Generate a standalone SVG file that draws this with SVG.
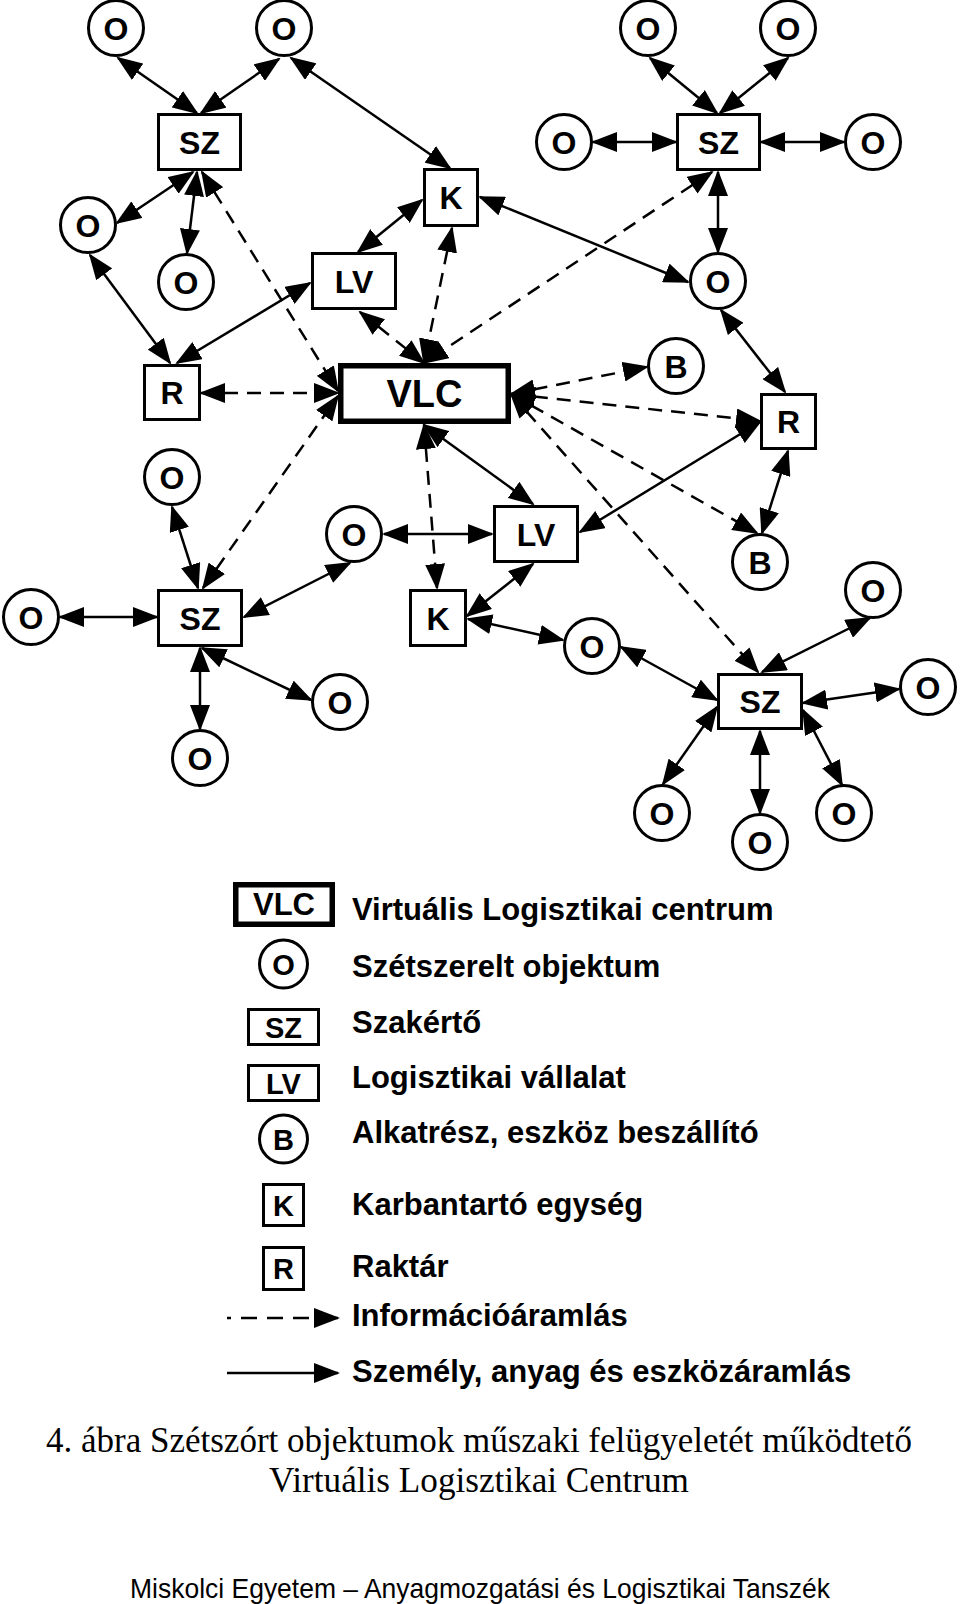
<svg xmlns="http://www.w3.org/2000/svg" width="960" height="1604" viewBox="0 0 960 1604">
<defs>
<marker id="ah" viewBox="0 0 26 20" refX="24" refY="10" markerWidth="26" markerHeight="20" markerUnits="userSpaceOnUse" orient="auto-start-reverse"><path d="M0,0 L26,10 L0,20 Z" fill="#000"/></marker>
<style>
.c{fill:#fff;stroke:#000;stroke-width:3}
.b{fill:#fff;stroke:#000;stroke-width:3}
.v{fill:#fff;stroke:#000;stroke-width:5.5}
.t{font-family:"Liberation Sans",Arial,sans-serif;font-weight:bold;font-size:32px;text-anchor:middle;fill:#000}
.tv{font-family:"Liberation Sans",Arial,sans-serif;font-weight:bold;font-size:38px;text-anchor:middle;fill:#000}
.tl{font-family:"Liberation Sans",Arial,sans-serif;font-weight:bold;font-size:29px;text-anchor:middle;fill:#000}
.lg{font-family:"Liberation Sans",Arial,sans-serif;font-weight:bold;font-size:31px;fill:#000}
.cap{font-family:"Liberation Serif","Times New Roman",serif;font-size:35px;text-anchor:middle;fill:#000}
.ft{font-family:"Liberation Sans",Arial,sans-serif;font-size:28px;fill:#000}
.s{stroke:#000;stroke-width:2.5;fill:none;marker-start:url(#ah);marker-end:url(#ah)}
.d{stroke:#000;stroke-width:2.5;fill:none;stroke-dasharray:14 9;marker-start:url(#ah);marker-end:url(#ah)}
</style>
</defs>
<rect x="0" y="0" width="960" height="1604" fill="#fff"/>

<g id="nodes">
<g id="o1"><circle class="c" cx="116" cy="28" r="27.5"/><text class="t" x="116" y="39.5">O</text></g>
<g id="o2"><circle class="c" cx="284" cy="28" r="27.5"/><text class="t" x="284" y="39.5">O</text></g>
<g id="o3"><circle class="c" cx="88" cy="225" r="27.5"/><text class="t" x="88" y="236.5">O</text></g>
<g id="o4"><circle class="c" cx="186" cy="282" r="27.5"/><text class="t" x="186" y="293.5">O</text></g>
<g id="o5"><circle class="c" cx="648" cy="28" r="27.5"/><text class="t" x="648" y="39.5">O</text></g>
<g id="o6"><circle class="c" cx="788" cy="28" r="27.5"/><text class="t" x="788" y="39.5">O</text></g>
<g id="o7"><circle class="c" cx="564" cy="142" r="27.5"/><text class="t" x="564" y="153.5">O</text></g>
<g id="o8"><circle class="c" cx="873" cy="142" r="27.5"/><text class="t" x="873" y="153.5">O</text></g>
<g id="o9"><circle class="c" cx="718" cy="281" r="27.5"/><text class="t" x="718" y="292.5">O</text></g>
<g id="b1"><circle class="c" cx="676" cy="366" r="27.5"/><text class="t" x="676" y="377.5">B</text></g>
<g id="o10"><circle class="c" cx="172" cy="477" r="27.5"/><text class="t" x="172" y="488.5">O</text></g>
<g id="o11"><circle class="c" cx="354" cy="534" r="27.5"/><text class="t" x="354" y="545.5">O</text></g>
<g id="b2"><circle class="c" cx="760" cy="562" r="27.5"/><text class="t" x="760" y="573.5">B</text></g>
<g id="o12"><circle class="c" cx="31" cy="617" r="27.5"/><text class="t" x="31" y="628.5">O</text></g>
<g id="o13"><circle class="c" cx="873" cy="590" r="27.5"/><text class="t" x="873" y="601.5">O</text></g>
<g id="o14"><circle class="c" cx="592" cy="646" r="27.5"/><text class="t" x="592" y="657.5">O</text></g>
<g id="o15"><circle class="c" cx="340" cy="702" r="27.5"/><text class="t" x="340" y="713.5">O</text></g>
<g id="o16"><circle class="c" cx="928" cy="687" r="27.5"/><text class="t" x="928" y="698.5">O</text></g>
<g id="o17"><circle class="c" cx="200" cy="758" r="27.5"/><text class="t" x="200" y="769.5">O</text></g>
<g id="o18"><circle class="c" cx="662" cy="813" r="27.5"/><text class="t" x="662" y="824.5">O</text></g>
<g id="o19"><circle class="c" cx="760" cy="842" r="27.5"/><text class="t" x="760" y="853.5">O</text></g>
<g id="o20"><circle class="c" cx="844" cy="813" r="27.5"/><text class="t" x="844" y="824.5">O</text></g>

<g id="sz1"><rect class="b" x="158.5" y="114.5" width="82" height="55"/><text class="t" x="199.5" y="153.5">SZ</text></g>
<g id="sz2"><rect class="b" x="677.5" y="114.5" width="82" height="55"/><text class="t" x="718.5" y="153.5">SZ</text></g>
<g id="sz3"><rect class="b" x="158.5" y="590.5" width="83" height="55"/><text class="t" x="200" y="629.5">SZ</text></g>
<g id="sz4"><rect class="b" x="718.5" y="674.5" width="83" height="54"/><text class="t" x="760" y="713">SZ</text></g>
<g id="lv1"><rect class="b" x="312.5" y="253.5" width="83" height="55"/><text class="t" x="354" y="292.5">LV</text></g>
<g id="lv2"><rect class="b" x="494.5" y="506.5" width="83" height="55"/><text class="t" x="536" y="545.5">LV</text></g>
<g id="k1"><rect class="b" x="424.5" y="169.5" width="53" height="56"/><text class="t" x="451" y="209">K</text></g>
<g id="k2"><rect class="b" x="410.5" y="590.5" width="55" height="55"/><text class="t" x="438" y="629.5">K</text></g>
<g id="r1"><rect class="b" x="144.5" y="365.5" width="55" height="54"/><text class="t" x="172" y="404">R</text></g>
<g id="r2"><rect class="b" x="761.5" y="394.5" width="54" height="54"/><text class="t" x="788.5" y="433">R</text></g>
<g id="vlc"><rect class="v" x="340.75" y="365.75" width="167.5" height="55.5"/><text class="tv" x="424.5" y="407">VLC</text></g>
</g>

<g id="connectors">
<line class="s" x1="118" y1="58" x2="197" y2="113"/>
<line class="s" x1="279" y1="59" x2="201" y2="113"/>
<line class="s" x1="291" y1="58" x2="450" y2="168"/>
<line class="s" x1="193" y1="172" x2="117" y2="223"/>
<line class="s" x1="197" y1="172" x2="187" y2="253"/>
<line class="s" x1="90" y1="255" x2="170" y2="363"/>
<line class="s" x1="310" y1="283" x2="177" y2="363"/>
<line class="s" x1="422" y1="200" x2="358" y2="252"/>
<line class="s" x1="424" y1="425" x2="533" y2="504"/>
<line class="s" x1="384" y1="534" x2="492" y2="534"/>
<line class="s" x1="533" y1="564" x2="467" y2="616"/>
<line class="s" x1="468" y1="619" x2="563" y2="640"/>
<line class="s" x1="580" y1="532" x2="760" y2="422"/>
<line class="s" x1="721" y1="310" x2="785" y2="392"/>
<line class="s" x1="788" y1="451" x2="762" y2="533"/>
<line class="s" x1="480" y1="197" x2="688" y2="282"/>
<line class="s" x1="593" y1="142" x2="676" y2="142"/>
<line class="s" x1="761" y1="142" x2="844" y2="142"/>
<line class="s" x1="650" y1="58" x2="717" y2="113"/>
<line class="s" x1="788" y1="58" x2="720" y2="113"/>
<line class="s" x1="718" y1="172" x2="718" y2="252"/>
<line class="s" x1="172" y1="507" x2="198" y2="588"/>
<line class="s" x1="60" y1="617" x2="157" y2="617"/>
<line class="s" x1="244" y1="617" x2="350" y2="563"/>
<line class="s" x1="200" y1="648" x2="200" y2="729"/>
<line class="s" x1="202" y1="648" x2="311" y2="700"/>
<line class="s" x1="621" y1="647" x2="717" y2="700"/>
<line class="s" x1="870" y1="618" x2="762" y2="672"/>
<line class="s" x1="803" y1="703" x2="899" y2="689"/>
<line class="s" x1="717" y1="707" x2="663" y2="784"/>
<line class="s" x1="760" y1="731" x2="760" y2="813"/>
<line class="s" x1="803" y1="710" x2="842" y2="785"/>

<line class="d" x1="202" y1="172" x2="338" y2="391"/>
<line class="d" x1="452" y1="228" x2="424" y2="363"/>
<line class="d" x1="360" y1="312" x2="424" y2="363"/>
<line class="d" x1="712" y1="172" x2="424" y2="363"/>
<line class="d" x1="201" y1="393" x2="338" y2="393"/>
<line class="d" x1="203" y1="588" x2="338" y2="396"/>
<line class="d" x1="511" y1="394" x2="647" y2="367"/>
<line class="d" x1="511" y1="394" x2="760" y2="421"/>
<line class="d" x1="511" y1="394" x2="757" y2="533"/>
<line class="d" x1="511" y1="394" x2="758" y2="672"/>
<line class="d" x1="424" y1="425" x2="437" y2="588"/>
</g>

<g id="legend">
<g id="lg-vlc"><rect class="v" x="235.75" y="884.75" width="96.5" height="39.5"/><text class="lg" x="284" y="915" text-anchor="middle" font-size="30">VLC</text><text class="lg" x="352" y="920">Virtuális Logisztikai centrum</text></g>
<g id="lg-o"><circle class="c" cx="283.5" cy="964" r="24"/><text class="tl" x="283.5" y="974.5">O</text><text class="lg" x="352" y="977">Szétszerelt objektum</text></g>
<g id="lg-sz"><rect class="b" x="248.5" y="1009.5" width="70" height="35"/><text class="tl" x="283.5" y="1037.5">SZ</text><text class="lg" x="352" y="1033">Szakértő</text></g>
<g id="lg-lv"><rect class="b" x="248.5" y="1065.5" width="70" height="35"/><text class="tl" x="283.5" y="1093.5">LV</text><text class="lg" x="352" y="1088">Logisztikai vállalat</text></g>
<g id="lg-b"><circle class="c" cx="283.5" cy="1139" r="24"/><text class="tl" x="283.5" y="1149.5">B</text><text class="lg" x="352" y="1143">Alkatrész, eszköz beszállító</text></g>
<g id="lg-k"><rect class="b" x="263.5" y="1184.5" width="40" height="41"/><text class="tl" x="283.5" y="1215.5">K</text><text class="lg" x="352" y="1215">Karbantartó egység</text></g>
<g id="lg-r"><rect class="b" x="263.5" y="1247.5" width="40" height="42"/><text class="tl" x="283.5" y="1279">R</text><text class="lg" x="352" y="1277">Raktár</text></g>
<g id="lg-info"><line x1="227" y1="1318" x2="338" y2="1318" stroke="#000" stroke-width="2.5" stroke-dasharray="4 10 16 10 16 10 16 10 30" marker-end="url(#ah)"/><text class="lg" x="352" y="1326">Információáramlás</text></g>
<g id="lg-flow"><line x1="227" y1="1373" x2="338" y2="1373" stroke="#000" stroke-width="2.5" marker-end="url(#ah)"/><text class="lg" x="352" y="1382">Személy, anyag és eszközáramlás</text></g>
</g>

<text class="cap" x="479" y="1452" textLength="866" lengthAdjust="spacingAndGlyphs">4. ábra Szétszórt objektumok műszaki felügyeletét működtető</text>
<text class="cap" x="479" y="1492" textLength="420" lengthAdjust="spacingAndGlyphs">Virtuális Logisztikai Centrum</text>
<text class="ft" x="130" y="1598" textLength="700" lengthAdjust="spacingAndGlyphs">Miskolci Egyetem – Anyagmozgatási és Logisztikai Tanszék</text>
</svg>
